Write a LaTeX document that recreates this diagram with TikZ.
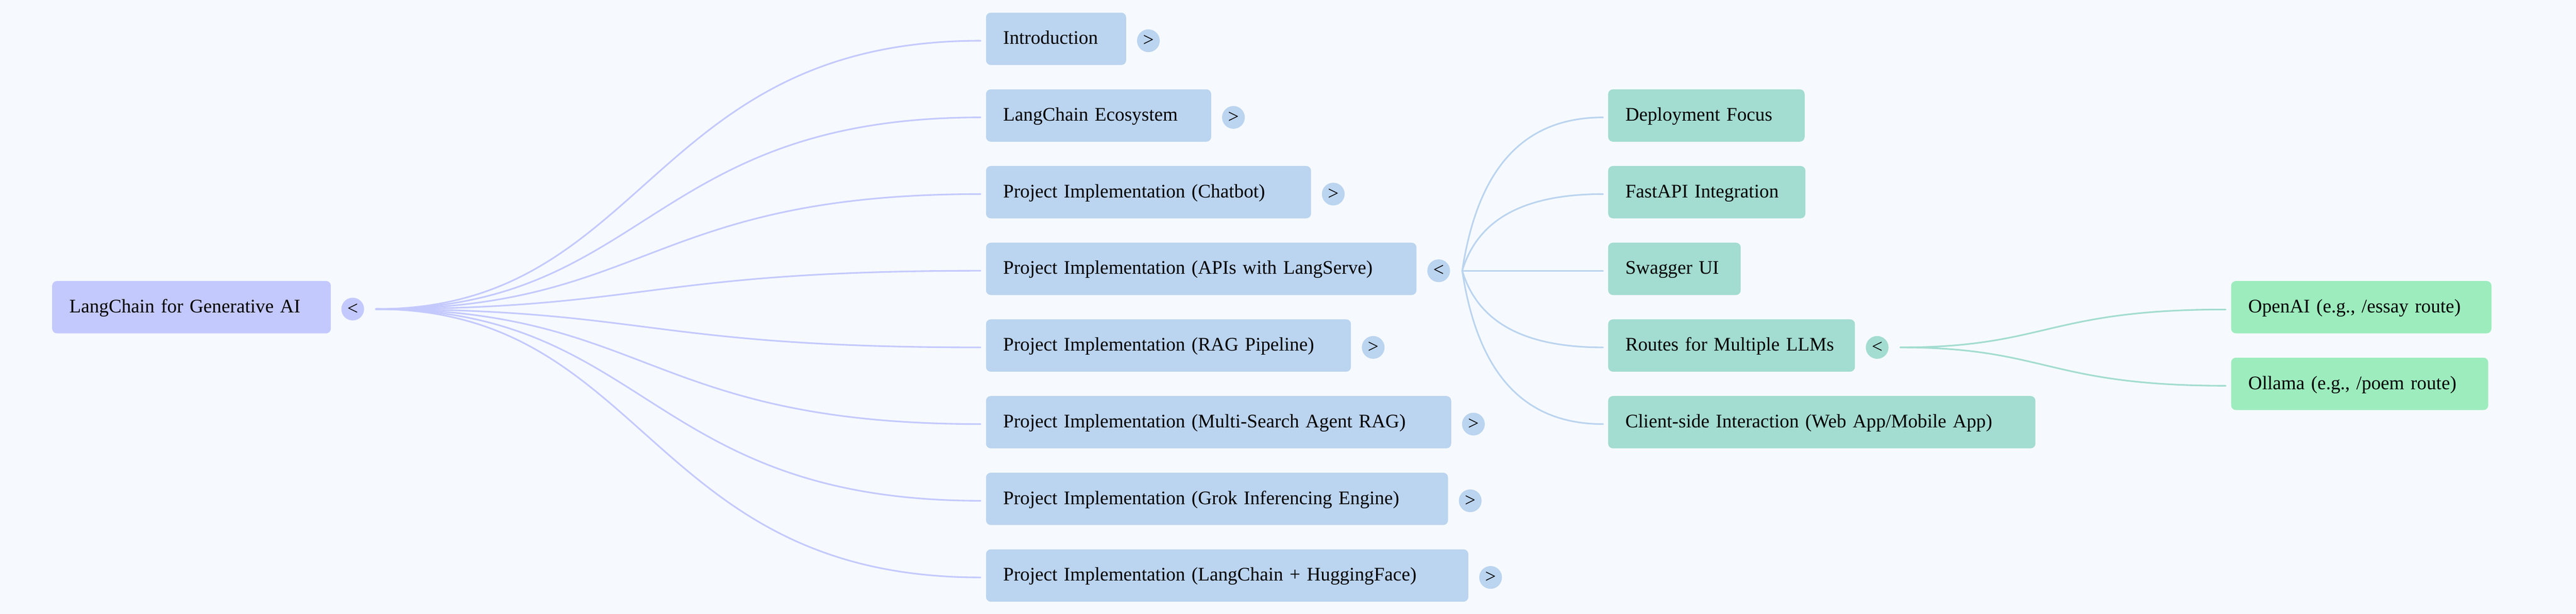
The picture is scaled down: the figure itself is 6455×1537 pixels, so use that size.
\documentclass[tikz,border=0pt]{standalone}
\usepackage{fontspec}
\setmainfont{Liberation Serif}
\usetikzlibrary{calc}
\definecolor{bgc}{HTML}{F6FAFF}
\definecolor{rootc}{HTML}{C4C9FD}
\definecolor{lonec}{HTML}{BBD4EF}
\definecolor{ltwoc}{HTML}{A3DCD1}
\definecolor{lthreec}{HTML}{9DECBE}
\tikzset{
 box/.style={anchor=north west, rounded corners=0.12cm, inner xsep=0.43cm, inner ysep=0pt,
   text height=0.79cm, text depth=0.52cm, align=left,
   font=\fontsize{13.66pt}{16pt}\selectfont, text=black},
 rootbox/.style={box, fill=rootc},
 onebox/.style={box, fill=lonec},
 twobox/.style={box, fill=ltwoc},
 threebox/.style={box, fill=lthreec},
 toggle/.style={circle, minimum size=0.57cm, inner sep=0pt, text=black,
   font=\fontsize{13.66pt}{16pt}\selectfont},
 link/.style={line width=0.04cm, line cap=round},
}
\begin{document}
\begin{tikzpicture}[x=0.01cm, y=-0.01cm]
\fill[bgc] (0,0) rectangle (6455,1537);
\useasboundingbox (0,0) rectangle (6455,1537);

% root
\node[rootbox, text width=6.12cm] (root) at (130,703) {LangChain for Generative AI};
\node[toggle, fill=rootc] (troot) at ($(root.north east)+(54,71)$) {<};
\coordinate (sroot) at ($(troot.center)+(58,0)$);

% level 1
\node[onebox, text width=2.65cm] (intro) at (2470,31) {Introduction};
\node[onebox, text width=4.78cm] (eco) at (2470,223) {LangChain Ecosystem};
\node[onebox, text width=7.28cm] (chat) at (2470,415) {Project Implementation (Chatbot)};
\node[onebox, text width=9.92cm] (apis) at (2470,607) {Project Implementation (APIs with LangServe)};
\node[onebox, text width=8.28cm] (rag) at (2470,799) {Project Implementation (RAG Pipeline)};
\node[onebox, text width=10.79cm] (multi) at (2470,991) {Project Implementation (Multi-Search Agent RAG)};
\node[onebox, text width=10.71cm] (grok) at (2470,1183) {Project Implementation (Grok Inferencing Engine)};
\node[onebox, text width=11.22cm] (hf) at (2470,1375) {Project Implementation (LangChain + HuggingFace)};

\foreach \k/\g in {intro/>, eco/>, chat/>, apis/<, rag/>, multi/>, grok/>, hf/>}{
  \node[toggle, fill=lonec] (t\k) at ($(\k.north east)+(55,71)$) {\g};
  \coordinate (e\k) at ($(\k.north west)+(-13,71)$);
}
\coordinate (sapis) at ($(tapis.center)+(59,0)$);

% level 2
\node[twobox, text width=4.06cm] (deploy) at (4029,223) {Deployment Focus};
\node[twobox, text width=4.08cm] (fastapi) at (4029,415) {FastAPI Integration};
\node[twobox, text width=2.46cm] (swagger) at (4029,607) {Swagger UI};
\node[twobox, text width=5.32cm] (routes) at (4029,799) {Routes for Multiple LLMs};
\node[twobox, text width=9.84cm] (client) at (4029,991) {Client-side Interaction (Web App/Mobile App)};
\foreach \k in {deploy, fastapi, swagger, routes, client}{
  \coordinate (e\k) at ($(\k.north west)+(-12,71)$);
}
\node[toggle, fill=ltwoc] (troutes) at ($(routes.north east)+(55,71)$) {<};
\coordinate (sroutes) at ($(troutes.center)+(58,0)$);

% level 3
\node[threebox, text width=5.66cm] (openai) at (5590,703) {OpenAI (e.g., /essay route)};
\node[threebox, text width=5.58cm] (ollama) at (5590,895) {Ollama (e.g., /poem route)};
\coordinate (eopenai) at ($(openai.north west)+(-13,72)$);
\coordinate (eollama) at ($(ollama.north west)+(-13,71)$);

% links
\foreach \k in {intro, eco, chat, apis, rag, multi, grok, hf}{
  \draw[link, draw=rootc] let \p1=(sroot), \p2=(e\k) in
    (sroot) .. controls ({\x1+0.45*(\x2-\x1)},\y1) and ({\x1+0.45*(\x2-\x1)},\y2) .. (e\k);
}
\foreach \k in {deploy, fastapi, swagger, routes, client}{
  \draw[link, draw=lonec] let \p1=(sapis), \p2=(e\k) in
    (sapis) .. controls ({\x1+0.35cm},{\y1+0.6*(\y2-\y1)}) and ({\x1+0.38*(\x2-\x1)},\y2) .. (e\k);
}
\foreach \k in {openai, ollama}{
  \draw[link, draw=ltwoc] let \p1=(sroutes), \p2=(e\k) in
    (sroutes) .. controls ({\x1+0.45*(\x2-\x1)},\y1) and ({\x1+0.45*(\x2-\x1)},\y2) .. (e\k);
}
\end{tikzpicture}
\end{document}
